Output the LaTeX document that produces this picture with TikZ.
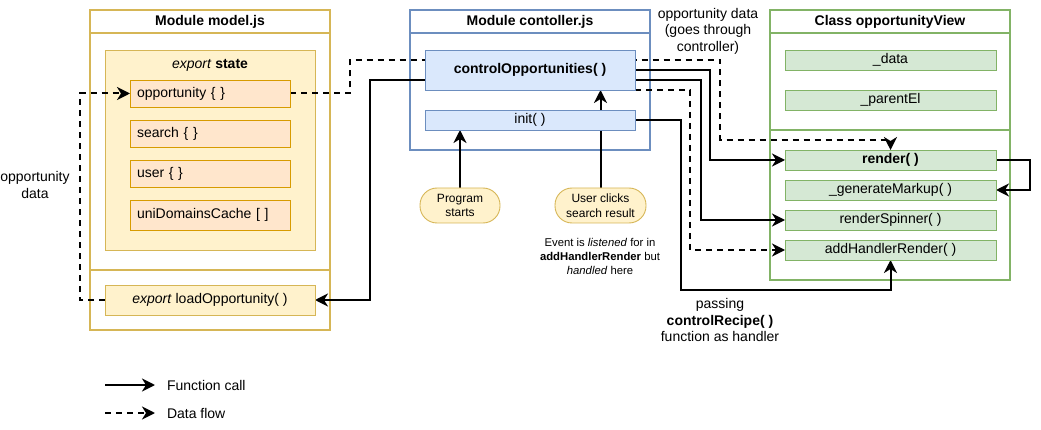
\documentclass[tikz,border=0pt]{standalone}
\usepackage{fontspec}
\setmainfont{Liberation Sans}
\usetikzlibrary{arrows.meta,calc}
\pgfdeclarelayer{bg}
\pgfdeclarelayer{edges}
\pgfsetlayers{bg,edges,main}
\definecolor{ystroke}{HTML}{D6B656}
\definecolor{yfill}{HTML}{FFF2CC}
\definecolor{ostroke}{HTML}{D79B00}
\definecolor{ofill}{HTML}{FFE6CC}
\definecolor{bstroke}{HTML}{6C8EBF}
\definecolor{bfill}{HTML}{DAE8FC}
\definecolor{gstroke}{HTML}{82B366}
\definecolor{gfill}{HTML}{D5E8D4}
\tikzset{
  txt/.style={font=\fontsize{14}{16.5}\selectfont, inner sep=0pt, outer sep=0pt},
  cont/.style={draw, line width=1.6pt, fill=white, inner sep=0pt, outer sep=0pt},
  title/.style={txt, font=\fontsize{14}{16.5}\selectfont\bfseries},
  statebox/.style={draw=ystroke, fill=yfill, line width=0.9pt, inner sep=0pt},
  oitem/.style={txt, draw=ostroke, fill=ofill, line width=0.9pt, text width=146pt, inner xsep=7pt, align=left, minimum height=27pt},
  yitem/.style={txt, draw=ystroke, fill=yfill, line width=0.9pt, minimum width=210pt, minimum height=30pt},
  bitem/.style={txt, draw=bstroke, fill=bfill, line width=0.9pt, minimum width=210pt},
  gitem/.style={txt, draw=gstroke, fill=gfill, line width=0.9pt, minimum width=211pt, minimum height=20pt},
  stadium/.style={draw=ystroke, fill=yfill, line width=0.9pt, rounded corners=17pt, align=center, inner sep=0pt,
    font=\fontsize{12}{14.6}\selectfont},
  lab/.style={align=center, inner sep=0pt, font=\fontsize{14}{16.5}\selectfont},
  call/.style={line width=2pt, -{Stealth[length=13pt,width=13pt,inset=4pt]}},
  flow/.style={call, dash pattern=on 6pt off 5pt},
}
\begin{document}
\begin{tikzpicture}[x=1pt,y=-1pt]
\useasboundingbox (0,0) rectangle (1041,430);

% ---- containers (background)
\begin{pgfonlayer}{bg}
  \node[cont, draw=ystroke, minimum width=240pt, minimum height=320pt] (model) at (210,170) {};
  \draw[ystroke, line width=1.6pt] (90,33) -- (330,33) (90,270) -- (330,270);
  \node[statebox, minimum width=210pt, minimum height=200pt] (state) at (210,150) {};
  \node[cont, draw=bstroke, minimum width=240pt, minimum height=140pt] (ctrlmod) at (530,80) {};
  \draw[bstroke, line width=1.6pt] (410,33) -- (650,33);
  \node[cont, draw=gstroke, minimum width=240pt, minimum height=270pt] (view) at (890,145) {};
  \draw[gstroke, line width=1.6pt] (770,33) -- (1010,33) (770,130) -- (1010,130);
\end{pgfonlayer}

% ---- titles
\node[title] (tmodel) at (210,22) {Module model.js};
\node[title] (tctrl) at (530,22) {Module contoller.js};
\node[title] (tview) at (890,22) {Class opportunityView};
\node[txt] (tstate) at (210,65) {\textit{export} \textbf{state}};

% ---- model items
\node[oitem] (opp) at (210,93.5) {opportunity \{ \}};
\node[oitem] (search) at (210,133.5) {search \{ \}};
\node[oitem] (user) at (210,173.5) {user \{ \}};
\node[oitem, minimum height=30pt] (uni) at (210,215) {uniDomainsCache [ ]};
\node[yitem] (load) at (210,300) {\textit{export} loadOpportunity( )};

% ---- controller items
\node[bitem, minimum height=40pt] (ctrl) at (530,70) {\textbf{controlOpportunities( )}};
\node[bitem, minimum height=20pt] (init) at (530,120) {init( )};

% ---- view items
\node[gitem] (data) at (890.5,60) {\_data};
\node[gitem] (parent) at (890.5,100) {\_parentEl};
\node[gitem] (render) at (890.5,160) {\textbf{render( )}};
\node[gitem] (gen) at (890.5,190) {\_generateMarkup( )};
\node[gitem] (spin) at (890.5,220) {renderSpinner( )};
\node[gitem] (hand) at (890.5,250) {addHandlerRender( )};

% ---- events
\node[stadium, minimum width=80pt, minimum height=35pt] (prog) at (460,205.5) {Program\\starts};
\node[stadium, minimum width=91pt, minimum height=35pt] (click) at (600.5,205.5) {User clicks\\search result};
\node[align=center, inner sep=0pt, font=\fontsize{11.3}{14}\selectfont] (evt) at (600,256)
  {Event is \textit{listened} for in\\\textbf{addHandlerRender} but\\\textit{handled} here};

% ---- labels
\node[lab] (lab1) at (708,31) {opportunity data\\(goes through\\controller)};
\node[lab] (lab2) at (35,185) {opportunity\\data};
\node[lab] (lab3) at (720,320) {passing\\\textbf{controlRecipe( )}\\function as handler};

% ---- connectors
\begin{pgfonlayer}{edges}
  \draw[flow] (opp.east) -| (350,60) -| (720,140) -| (render.north);
  \draw[flow] (load.west) -- (80,300) |- (opp.west);
  \draw[call] ([yshift=-10pt]ctrl.west) -- (370,80) |- (load.east);
  \draw[call] (ctrl.east) -| (710,160) -- (render.west);
  \draw[call] ([yshift=-10pt]ctrl.east) -| (701,220) -- (spin.west);
  \draw[flow] (ctrl.south east) -| (690,250) -- (hand.west);
  \draw[call] (init.east) -| (681,290) -| (hand.south);
  \draw[call] (render.east) -| (1030,190) -- (gen.east);
  \draw[call] (prog.north) -- (prog.north |- init.south);
  \draw[call] (click.north) -- (click.north |- ctrl.south);
\end{pgfonlayer}

% ---- legend
\coordinate (l1a) at (105,385);
\coordinate (l1b) at (155,385);
\coordinate (l2a) at (105,413);
\coordinate (l2b) at (155,413);
\draw[call] (l1a) -- (l1b);
\draw[flow] (l2a) -- (l2b);
\node[txt, anchor=west] (lt1) at (167,385) {Function call};
\node[txt, anchor=west] (lt2) at (167,413) {Data flow};
\end{tikzpicture}
\end{document}
